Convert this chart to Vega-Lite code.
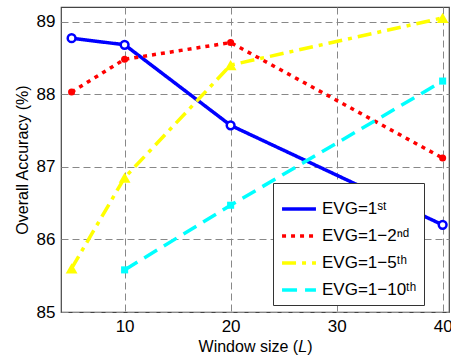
{
  "$schema": "https://vega.github.io/schema/vega-lite/v6.json",
  "width": 388,
  "height": 305,
  "autosize": "none",
  "padding": {"left": 61, "top": 7, "right": 2, "bottom": 48},
  "background": "white",
  "config": {
    "font": "Liberation Sans",
    "view": {"stroke": "#444", "strokeWidth": 1.2},
    "axis": {
      "labelFontSize": 17,
      "labelColor": "#000",
      "titleFontSize": 16,
      "titleFontWeight": "normal",
      "titleColor": "#000",
      "gridColor": "#888",
      "gridDash": [7, 4],
      "gridWidth": 1,
      "domain": false,
      "ticks": false,
      "labelPadding": 6
    }
  },
  "data": {
    "values": [
      {"series": "EVG=1ˢᵗ", "L": 5, "acc": 88.77},
      {"series": "EVG=1ˢᵗ", "L": 10, "acc": 88.68},
      {"series": "EVG=1ˢᵗ", "L": 20, "acc": 87.57},
      {"series": "EVG=1ˢᵗ", "L": 40, "acc": 86.2},
      {"series": "EVG=1−2ⁿᵈ", "L": 5, "acc": 88.03},
      {"series": "EVG=1−2ⁿᵈ", "L": 10, "acc": 88.48},
      {"series": "EVG=1−2ⁿᵈ", "L": 20, "acc": 88.71},
      {"series": "EVG=1−2ⁿᵈ", "L": 40, "acc": 87.12},
      {"series": "EVG=1−5ᵗʰ", "L": 5, "acc": 85.6},
      {"series": "EVG=1−5ᵗʰ", "L": 10, "acc": 86.85},
      {"series": "EVG=1−5ᵗʰ", "L": 20, "acc": 88.4},
      {"series": "EVG=1−5ᵗʰ", "L": 40, "acc": 89.05},
      {"series": "EVG=1−10ᵗʰ", "L": 10, "acc": 85.58},
      {"series": "EVG=1−10ᵗʰ", "L": 20, "acc": 86.47},
      {"series": "EVG=1−10ᵗʰ", "L": 40, "acc": 88.18}
    ]
  },
  "encoding": {
    "x": {
      "field": "L",
      "type": "quantitative",
      "scale": {"domain": [4, 40.6], "nice": false, "zero": false},
      "axis": {"values": [10, 20, 30, 40], "title": "Window size (𝐿)", "titlePadding": 4}
    },
    "y": {
      "field": "acc",
      "type": "quantitative",
      "scale": {"domain": [85, 89.2], "nice": false, "zero": false},
      "axis": {"values": [85, 86, 87, 88, 89], "title": "Overall Accuracy (%)", "titlePadding": 6}
    }
  },
  "layer": [
    {
      "mark": {"type": "line", "strokeWidth": 3.5},
      "encoding": {
        "color": {
          "field": "series",
          "type": "nominal",
          "scale": {
            "domain": ["EVG=1ˢᵗ", "EVG=1−2ⁿᵈ", "EVG=1−5ᵗʰ", "EVG=1−10ᵗʰ"],
            "range": ["#0000ff", "#ff0000", "#ffff00", "#00ffff"]
          },
          "legend": {
            "title": null,
            "orient": "none",
            "legendX": 212,
            "legendY": 176,
            "strokeColor": "#333",
            "fillColor": "white",
            "padding": 7,
            "labelFontSize": 17,
            "labelColor": "#000",
            "symbolType": "stroke",
            "symbolSize": 1150,
            "symbolStrokeWidth": 3.5,
            "rowPadding": -5,
            "labelOffset": 4
          }
        },
        "strokeDash": {
          "field": "series",
          "type": "nominal",
          "scale": {
            "domain": ["EVG=1ˢᵗ", "EVG=1−2ⁿᵈ", "EVG=1−5ᵗʰ", "EVG=1−10ᵗʰ"],
            "range": [[1, 0], [4, 5], [14, 6, 4, 6], [15, 8]]
          },
          "legend": {
            "title": null,
            "orient": "none",
            "legendX": 212,
            "legendY": 176,
            "strokeColor": "#333",
            "fillColor": "white",
            "padding": 7,
            "labelFontSize": 17,
            "labelColor": "#000",
            "symbolType": "stroke",
            "symbolSize": 1150,
            "symbolStrokeWidth": 3.5,
            "rowPadding": -5,
            "labelOffset": 4
          }
        }
      }
    },
    {
      "transform": [{"filter": "datum.series === 'EVG=1ˢᵗ'"}],
      "mark": {"type": "point", "shape": "circle", "filled": false, "stroke": "#0000ff", "fill": "#ffffff", "fillOpacity": 1, "strokeWidth": 2.5, "size": 60, "opacity": 1}
    },
    {
      "transform": [{"filter": "datum.series === 'EVG=1−2ⁿᵈ'"}],
      "mark": {"type": "point", "shape": "circle", "filled": true, "color": "#ff0000", "size": 50, "opacity": 1}
    },
    {
      "transform": [{"filter": "datum.series === 'EVG=1−5ᵗʰ'"}],
      "mark": {"type": "point", "shape": "triangle-up", "filled": true, "color": "#ffff00", "size": 140, "opacity": 1}
    },
    {
      "transform": [{"filter": "datum.series === 'EVG=1−10ᵗʰ'"}],
      "mark": {"type": "point", "shape": "square", "filled": true, "color": "#00ffff", "size": 50, "opacity": 1}
    }
  ]
}
